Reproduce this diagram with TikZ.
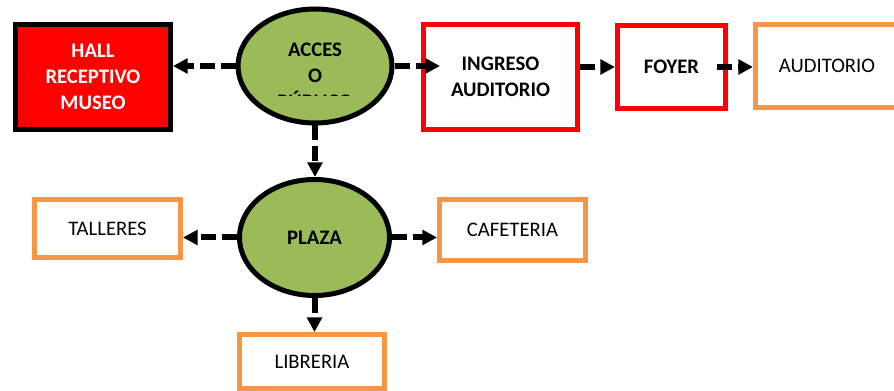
\documentclass[tikz,border=0pt]{standalone}
\usepackage{fontspec}
\setmainfont{Carlito}
\usetikzlibrary{arrows.meta,shapes.geometric}
\definecolor{xred}{HTML}{FF0000}
\definecolor{xgreen}{HTML}{9BBB59}
\definecolor{xorange}{HTML}{F79646}
\begin{document}
\begin{tikzpicture}[x=0.75pt,y=-0.75pt,
 box/.style={draw, line width=3.5pt, inner sep=0pt, align=center, font=\fontsize{15.5}{19.5}\selectfont},
 redbox/.style={box, draw=xred, fill=white, font=\fontsize{15.5}{19.5}\selectfont\bfseries},
 orbox/.style={box, draw=xorange, fill=white},
 hub/.style={ellipse, draw=black, fill=xgreen, line width=3.75pt, inner sep=0pt, align=center, font=\fontsize{15.5}{19.5}\selectfont\bfseries},
 flow/.style={line width=4.5pt, dash pattern=on 11.25pt off 4.5pt, -{Triangle[length=11pt,width=11pt]}},
 lbl/.style={align=center, font=\fontsize{15.5}{19.5}\selectfont\bfseries}
]
\useasboundingbox (0,0) rectangle (894,391);
\fill[white] (0,0) rectangle (894,391);

\node[box, draw=black, fill=xred, text=white, font=\fontsize{15.5}{19.5}\selectfont\bfseries,
      minimum width=116.5pt, minimum height=79pt] (hall) at (93,77) {HALL\\RECEPTIVO\\MUSEO};
\node[hub, minimum width=115.5pt, minimum height=85.5pt] (acc) at (315,66) {};
\begin{scope}
\clip (230,0) rectangle (400,95.5);
\node[lbl] (acctxt) at (315,76) {ACCES\\O\\PÚBLICO};
\end{scope}
\node[redbox, minimum width=115.7pt, minimum height=79pt] (ing) at (500.5,77) {INGRESO\\AUDITORIO};
\node[redbox, minimum width=81.3pt, minimum height=62.5pt] (foy) at (671.5,67) {FOYER};
\node[orbox, minimum width=107.5pt, minimum height=62.5pt] (aud) at (827,66) {AUDITORIO};

\node[hub, minimum width=112.5pt, minimum height=87pt] (plz) at (314.5,237.5) {PLAZA};
\node[orbox, minimum width=109.75pt, minimum height=43.75pt] (tal) at (107.5,228.5) {TALLERES};
\node[orbox, minimum width=109.75pt, minimum height=46pt] (caf) at (512.5,230) {CAFETERIA};
\node[orbox, minimum width=109pt, minimum height=40.7pt] (lib) at (312,361.5) {LIBRERIA};

\coordinate (tipA) at (440,66);
\draw[flow] (acc.west) -- (acc.west -| hall.east);
\draw[flow] (acc.east) -- (tipA);
\draw[flow] (ing.east |- foy.west) -- (foy.west);
\draw[flow, shorten <=-8pt] (foy.east) -- (foy.east -| aud.west);
\draw[flow] (acc.south) -- (acc.south |- plz.north);
\draw[flow] (plz.west) -- (plz.west -| tal.east);
\draw[flow] (plz.east) -- (plz.east -| caf.west);
\draw[flow] (plz.south) -- (plz.south |- lib.north);
\end{tikzpicture}
\end{document}
